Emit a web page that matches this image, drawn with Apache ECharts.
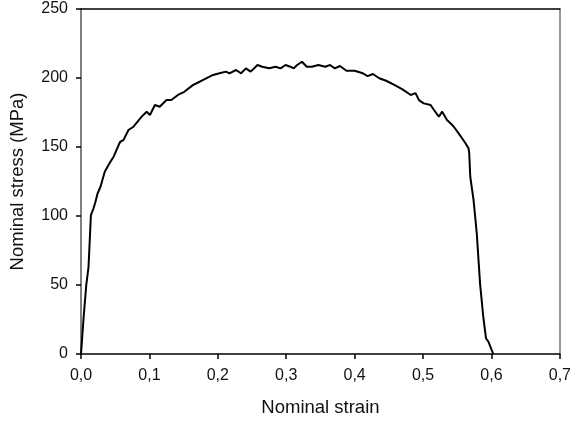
<!DOCTYPE html>
<html>
<head>
<meta charset="utf-8">
<script src="https://cdn.jsdelivr.net/npm/echarts@6/dist/echarts.min.js"></script>
<style>
html,body{margin:0;padding:0;background:#fff;}
#chart{width:574px;height:423px;}
</style>
</head>
<body>
<div id="chart"></div>
<script>
var strain = [0, 0.0039, 0.0077, 0.011, 0.0145, 0.0183, 0.021, 0.024, 0.0285, 0.0347, 0.043, 0.0477, 0.055, 0.0574, 0.062, 0.0694, 0.0767, 0.0887, 0.096, 0.1008, 0.108, 0.115, 0.125, 0.132, 0.1417, 0.151, 0.164, 0.1736, 0.183, 0.193, 0.2025, 0.212, 0.217, 0.2266, 0.234, 0.241, 0.248, 0.258, 0.265, 0.275, 0.2845, 0.2917, 0.299, 0.306, 0.311, 0.316, 0.323, 0.330, 0.3375, 0.347, 0.357, 0.364, 0.371, 0.3785, 0.388, 0.400, 0.412, 0.419, 0.4267, 0.436, 0.446, 0.458, 0.470, 0.482, 0.489, 0.494, 0.501, 0.511, 0.516, 0.523, 0.528, 0.535, 0.540, 0.545, 0.552, 0.557, 0.562, 0.5665, 0.5675, 0.569, 0.5737, 0.5785, 0.5833, 0.588, 0.592, 0.5955, 0.6026];
var stress = [0, 27, 50, 63, 100.7, 105.6, 110, 116, 121.2, 132.1, 139.3, 143, 151.4, 153.8, 155, 162.3, 164.7, 172, 175.6, 173.2, 180.4, 179.2, 184, 184, 187.7, 190, 195, 197.3, 199.8, 202.2, 203.4, 204.6, 203.4, 205.8, 203.4, 207, 204.6, 209.4, 208.2, 207, 208.2, 207, 209.4, 208.2, 207, 209.4, 211.8, 208.2, 208.2, 209.4, 208.2, 209.4, 207, 208.7, 205.3, 205.3, 203.4, 201.4, 202.9, 199.8, 198, 195, 191.8, 187.7, 189, 184, 181.6, 180.4, 176.8, 172, 175.6, 169.6, 167.2, 164.7, 159.9, 156.3, 152.7, 149, 145.4, 128.5, 112, 87.5, 51.2, 27, 11.4, 8.9, 0];
var xTickLabels = ['0,0', '0,1', '0,2', '0,3', '0,4', '0,5', '0,6', '0,7'];
var yTickLabels = ['0', '50', '100', '150', '200', '250'];
var xTitle = 'Nominal strain';
var yTitle = 'Nominal stress (MPa)';

var data = strain.map(function (s, i) { return [s, stress[i]]; });
var font = '"Liberation Sans", Arial, Helvetica, sans-serif';

var chart = echarts.init(document.getElementById('chart'), null, {renderer: 'canvas'});
chart.setOption({
  animation: false,
  backgroundColor: '#fff',
  grid: {left: 80, right: 10, top: 9, bottom: 69, containLabel: false},
  xAxis: [{
    type: 'value', min: 0, max: 0.7, interval: 0.1,
    name: xTitle, nameLocation: 'middle', nameGap: 44,
    nameTextStyle: {color: '#111', fontSize: 18.5, fontFamily: font},
    axisLine: {show: true, lineStyle: {color: '#000', width: 1.5}},
    axisTick: {show: true, inside: false, length: 5, lineStyle: {color: '#000', width: 1.5}},
    axisLabel: {color: '#111', fontSize: 16, fontFamily: font, margin: 14,
      formatter: function (v) { return xTickLabels[Math.round(v * 10)]; }},
    splitLine: {show: false}
  }, {
    type: 'value', position: 'top', min: 0, max: 0.7,
    axisLine: {show: true, onZero: false, lineStyle: {color: '#000', width: 1.5}},
    axisTick: {show: false}, axisLabel: {show: false}, splitLine: {show: false}
  }],
  yAxis: [{
    type: 'value', min: 0, max: 250, interval: 50,
    name: yTitle, nameLocation: 'middle', nameGap: 54, nameRotate: 90,
    nameTextStyle: {color: '#111', fontSize: 18.5, fontFamily: font},
    axisLine: {show: true, lineStyle: {color: '#555', width: 1.5}},
    axisTick: {show: true, inside: false, length: 5, lineStyle: {color: '#000', width: 1.5}},
    axisLabel: {color: '#111', fontSize: 16, fontFamily: font, margin: 13,
      formatter: function (v) { return yTickLabels[Math.round(v / 50)]; }},
    splitLine: {show: false}
  }, {
    type: 'value', position: 'right', min: 0, max: 250,
    axisLine: {show: true, onZero: false, lineStyle: {color: '#777', width: 1.5}},
    axisTick: {show: false}, axisLabel: {show: false}, splitLine: {show: false}
  }],
  series: [{
    type: 'line', xAxisIndex: 0, yAxisIndex: 0,
    data: data, showSymbol: false, symbol: 'none', smooth: false,
    lineStyle: {color: '#000', width: 2}
  }]
});
</script>
</body>
</html>
